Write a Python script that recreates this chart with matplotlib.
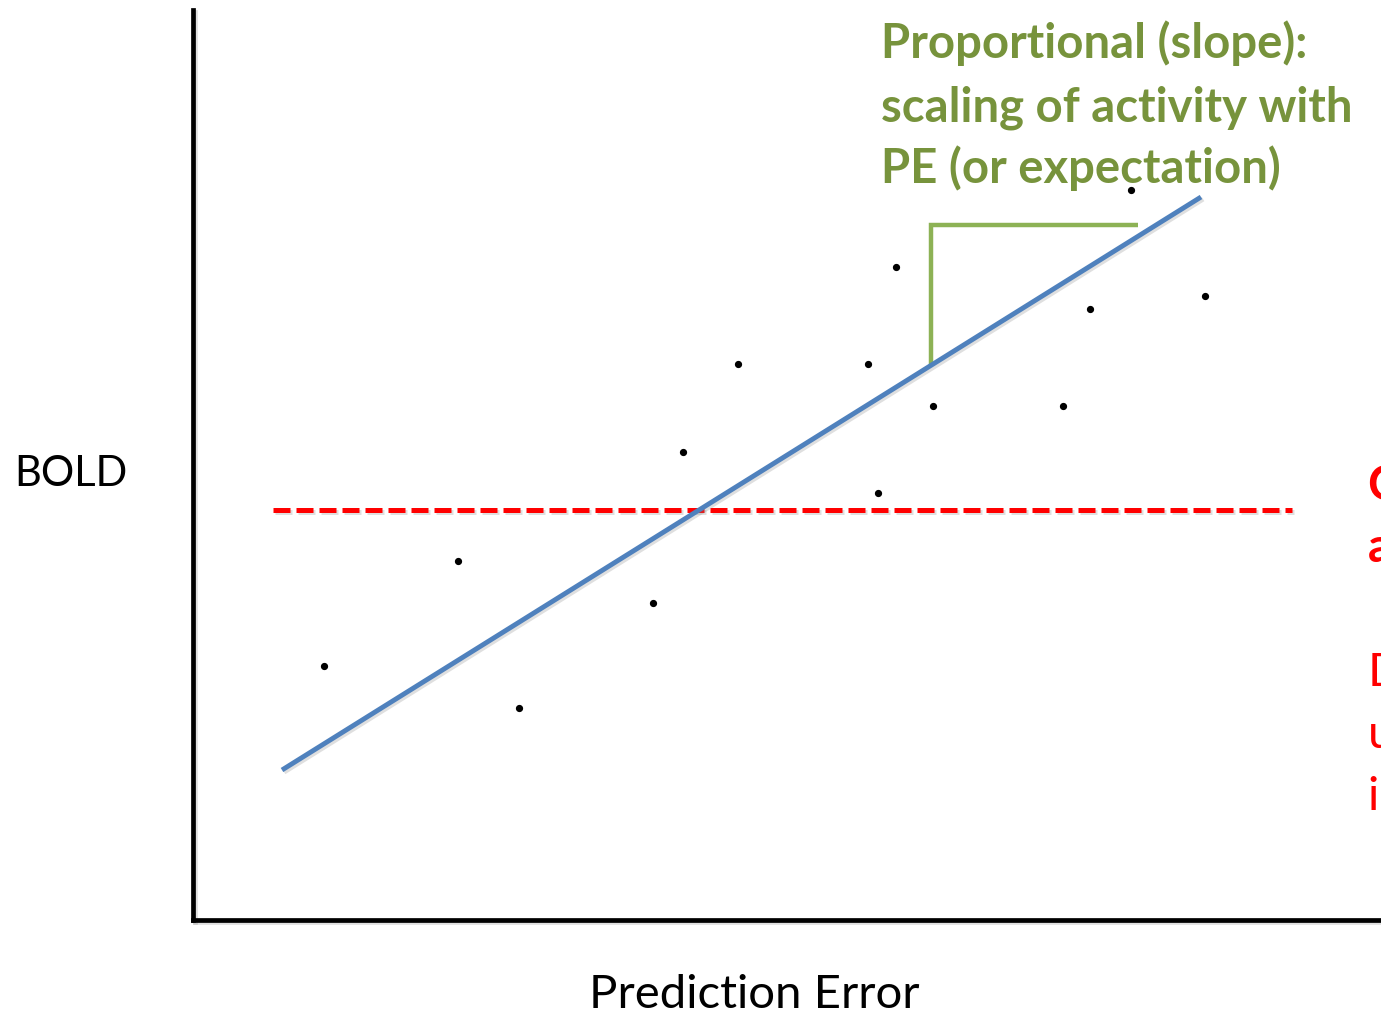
import matplotlib
matplotlib.use("Agg")
import matplotlib.pyplot as plt
import matplotlib.patheffects as pe

plt.rcParams['font.family'] = ['Lato', 'DejaVu Sans']

# Observations: prediction error vs BOLD response
pe_vals = [1.31, 2.65, 3.26, 4.60, 4.90, 5.45, 6.75, 6.85, 7.03, 7.40, 8.70, 8.97, 9.38, 10.12]
bold_vals = [2.54, 3.59, 2.12, 3.17, 4.68, 5.56, 5.56, 4.27, 6.53, 5.14, 5.14, 6.11, 7.30, 6.24]

# Fitted regression line (endpoints in PE) and its parameters
fit_x = [0.89, 10.08]
fit_intercept = 0.945
fit_slope = 0.6235

# Constant (mean) level
mean_level = 4.10
mean_x = [0.80, 10.99]

# Slope bracket: vertical rise from the fit line, then horizontal run
bracket_x = [7.38, 7.38, 9.45]
bracket_y = [fit_intercept + fit_slope * 7.38, 6.95, 6.95]

W, H = 1381, 1018
fig = plt.figure(figsize=(W / 100, H / 100), dpi=100)
fig.patch.set_facecolor('white')

left, right, top, bottom = 193, 1381, 10, 920
ax = fig.add_axes([left / W, (H - bottom) / H, (right - left) / W, (bottom - top) / H])
ax.set_xlim(0, (right - left) / 100)
ax.set_ylim(0, (bottom - top) / 100)
ax.set_xticks([])
ax.set_yticks([])
for s in ['top', 'right']:
    ax.spines[s].set_visible(False)
shadow = [pe.SimpleLineShadow(offset=(1.5, -1.5), shadow_color='0.5', alpha=0.25), pe.Normal()]
for s in ['left', 'bottom']:
    ax.spines[s].set_linewidth(3.4)
    ax.spines[s].set_color('black')
    ax.spines[s].set_capstyle('projecting')
    ax.spines[s].set_path_effects(shadow)

# Mean level (dashed)
ax.plot(mean_x, [mean_level, mean_level], color='#FF0000', lw=3.6,
        dashes=(3.4, 1.2), solid_capstyle='butt', dash_capstyle='butt',
        path_effects=shadow, zorder=2)

# Regression fit
fit_y = [fit_intercept + fit_slope * x for x in fit_x]
ax.plot(fit_x, fit_y, color='#4F81BD', lw=3.5, solid_capstyle='butt',
        path_effects=shadow, zorder=3)

# Slope bracket
ax.plot(bracket_x, bracket_y, color='#8DB255', lw=3.2, solid_joinstyle='miter',
        solid_capstyle='butt', zorder=2)

# Data points
ax.plot(pe_vals, bold_vals, 'o', color='black', ms=4.2, zorder=4)

# Axis labels
fig.text(14 / W, 1 - 486 / H, 'BOLD', fontsize=30, color='black',
         ha='left', va='baseline')
fig.text(754 / W, 1 - 1008 / H, 'Prediction Error', fontsize=34, color='black',
         ha='center', va='baseline')

# Slope annotation
green = '#77933C'
for line, y in zip(['Proportional (slope):',
                    'scaling of activity with',
                    'PE (or expectation)'], [58, 121, 183]):
    fig.text(881 / W, 1 - y / H, line, fontsize=34,
             fontweight='bold', color=green, ha='left', va='baseline')

# Intercept annotation (runs off the right edge)
red_lines = [('Constant (intercept):', 'bold', 500),
             ('average activity', 'bold', 562),
             ('Doesn\u2019t vary with', 'normal', 686),
             ('unexpectedness', 'normal', 748),
             ('in the data', 'normal', 810)]
for text, weight, y in red_lines:
    fig.text(1368 / W, 1 - y / H, text, fontsize=34, fontweight=weight,
             color='#FF0000', ha='left', va='baseline')

fig.savefig('out.png', dpi=100, facecolor='white')
